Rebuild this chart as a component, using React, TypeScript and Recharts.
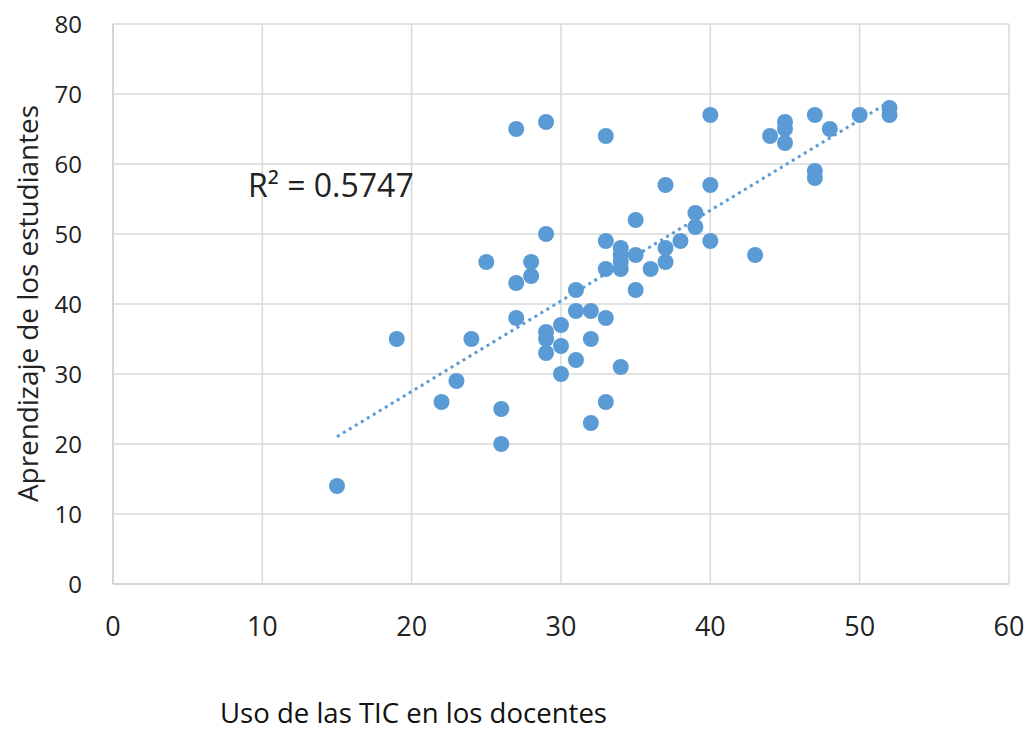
import React from "react";
import {
  ScatterChart,
  Scatter,
  XAxis,
  YAxis,
  CartesianGrid,
  ReferenceLine,
} from "recharts";

const usoTIC = [
  15, 19, 22, 23, 24, 25, 26, 26, 27, 27, 27, 28, 28, 29, 29, 29, 29, 29, 30, 30, 30,
  31, 31, 31, 32, 32, 32, 33, 33, 33, 33, 33, 34, 34, 34, 34, 34, 35, 35, 35, 36,
  37, 37, 37, 38, 39, 39, 40, 40, 40, 43, 44, 45, 45, 45, 47, 47, 47, 48, 50, 52, 52,
];
const aprendizaje = [
  14, 35, 26, 29, 35, 46, 25, 20, 65, 43, 38, 46, 44, 66, 50, 36, 35, 33, 37, 34, 30,
  42, 39, 32, 39, 35, 23, 64, 49, 45, 38, 26, 48, 47, 46, 45, 31, 52, 47, 42, 45,
  57, 48, 46, 49, 53, 51, 67, 57, 49, 47, 64, 66, 65, 63, 67, 59, 58, 65, 67, 68, 67,
];
const xTicks = [0, 10, 20, 30, 40, 50, 60];
const yTicks = [0, 10, 20, 30, 40, 50, 60, 70, 80];
const xTitle = "Uso de las TIC en los docentes";
const yTitle = "Aprendizaje de los estudiantes";
const r2Label = "R² = 0.5747";

const points = usoTIC.map((x, i) => ({ x, y: aprendizaje[i] }));

// least-squares trend line from the data
const n = points.length;
const mx = usoTIC.reduce((a, b) => a + b, 0) / n;
const my = aprendizaje.reduce((a, b) => a + b, 0) / n;
let sxy = 0;
let sxx = 0;
points.forEach((p) => {
  sxy += (p.x - mx) * (p.y - my);
  sxx += (p.x - mx) * (p.x - mx);
});
const slope = sxy / sxx;
const intercept = my - slope * mx;
const xMin = Math.min(...usoTIC);
const xMax = Math.max(...usoTIC);
const trendSegment = [
  { x: xMin, y: intercept + slope * xMin },
  { x: xMax, y: intercept + slope * xMax },
];

const BLUE = "#5B9BD5";
const FONT = "'Open Sans', sans-serif";

const Dot = (props: any) => {
  const { cx, cy } = props;
  if (cx == null || cy == null) return null;
  return <circle cx={cx} cy={cy} r={8} fill={BLUE} />;
};

export default function App() {
  return (
    <div style={{ position: "absolute", left: 0, top: 0, width: 1030, height: 731, background: "#fff" }}>
      <ScatterChart
        width={1030}
        height={731}
        margin={{ top: 24, right: 21, bottom: 97, left: 53 }}
      >
        <CartesianGrid stroke="#d9d9d9" strokeWidth={1.5} />
        <XAxis
          type="number"
          dataKey="x"
          domain={[0, 60]}
          ticks={xTicks}
          height={50}
          tickLine={false}
          tickSize={0}
          tickMargin={33}
          axisLine={{ stroke: "#d0d0d0", strokeWidth: 1.5 }}
          tick={{ fill: "#222", fontSize: 27, fontFamily: FONT }}
          interval={0}
        />
        <YAxis
          type="number"
          dataKey="y"
          domain={[0, 80]}
          ticks={yTicks}
          width={60}
          tickLine={false}
          tickSize={0}
          tickMargin={31}
          axisLine={{ stroke: "#d0d0d0", strokeWidth: 1.5 }}
          tick={{ fill: "#222", fontSize: 24, fontFamily: FONT }}
          interval={0}
        />
        <Scatter data={points} fill={BLUE} shape={<Dot />} isAnimationActive={false} />
        <ReferenceLine
          segment={trendSegment}
          stroke={BLUE}
          strokeWidth={3}
          strokeDasharray="3 4"
          ifOverflow="visible"
        />
      </ScatterChart>
      <svg
        width={1030}
        height={731}
        style={{ position: "absolute", left: 0, top: 0, pointerEvents: "none" }}
      >
        <text x={248} y={197} fontSize={32} fontFamily={FONT} fill="#222">
          {r2Label}
        </text>
        <text
          x={220}
          y={723}
          fontSize={28}
          fontFamily={FONT}
          fill="#111"
          textLength={387}
          lengthAdjust="spacingAndGlyphs"
        >
          {xTitle}
        </text>
        <text
          transform="translate(38, 502) rotate(-90)"
          x={0}
          y={0}
          fontSize={27}
          fontFamily={FONT}
          fill="#222"
          textLength={397}
          lengthAdjust="spacingAndGlyphs"
        >
          {yTitle}
        </text>
      </svg>
    </div>
  );
}
